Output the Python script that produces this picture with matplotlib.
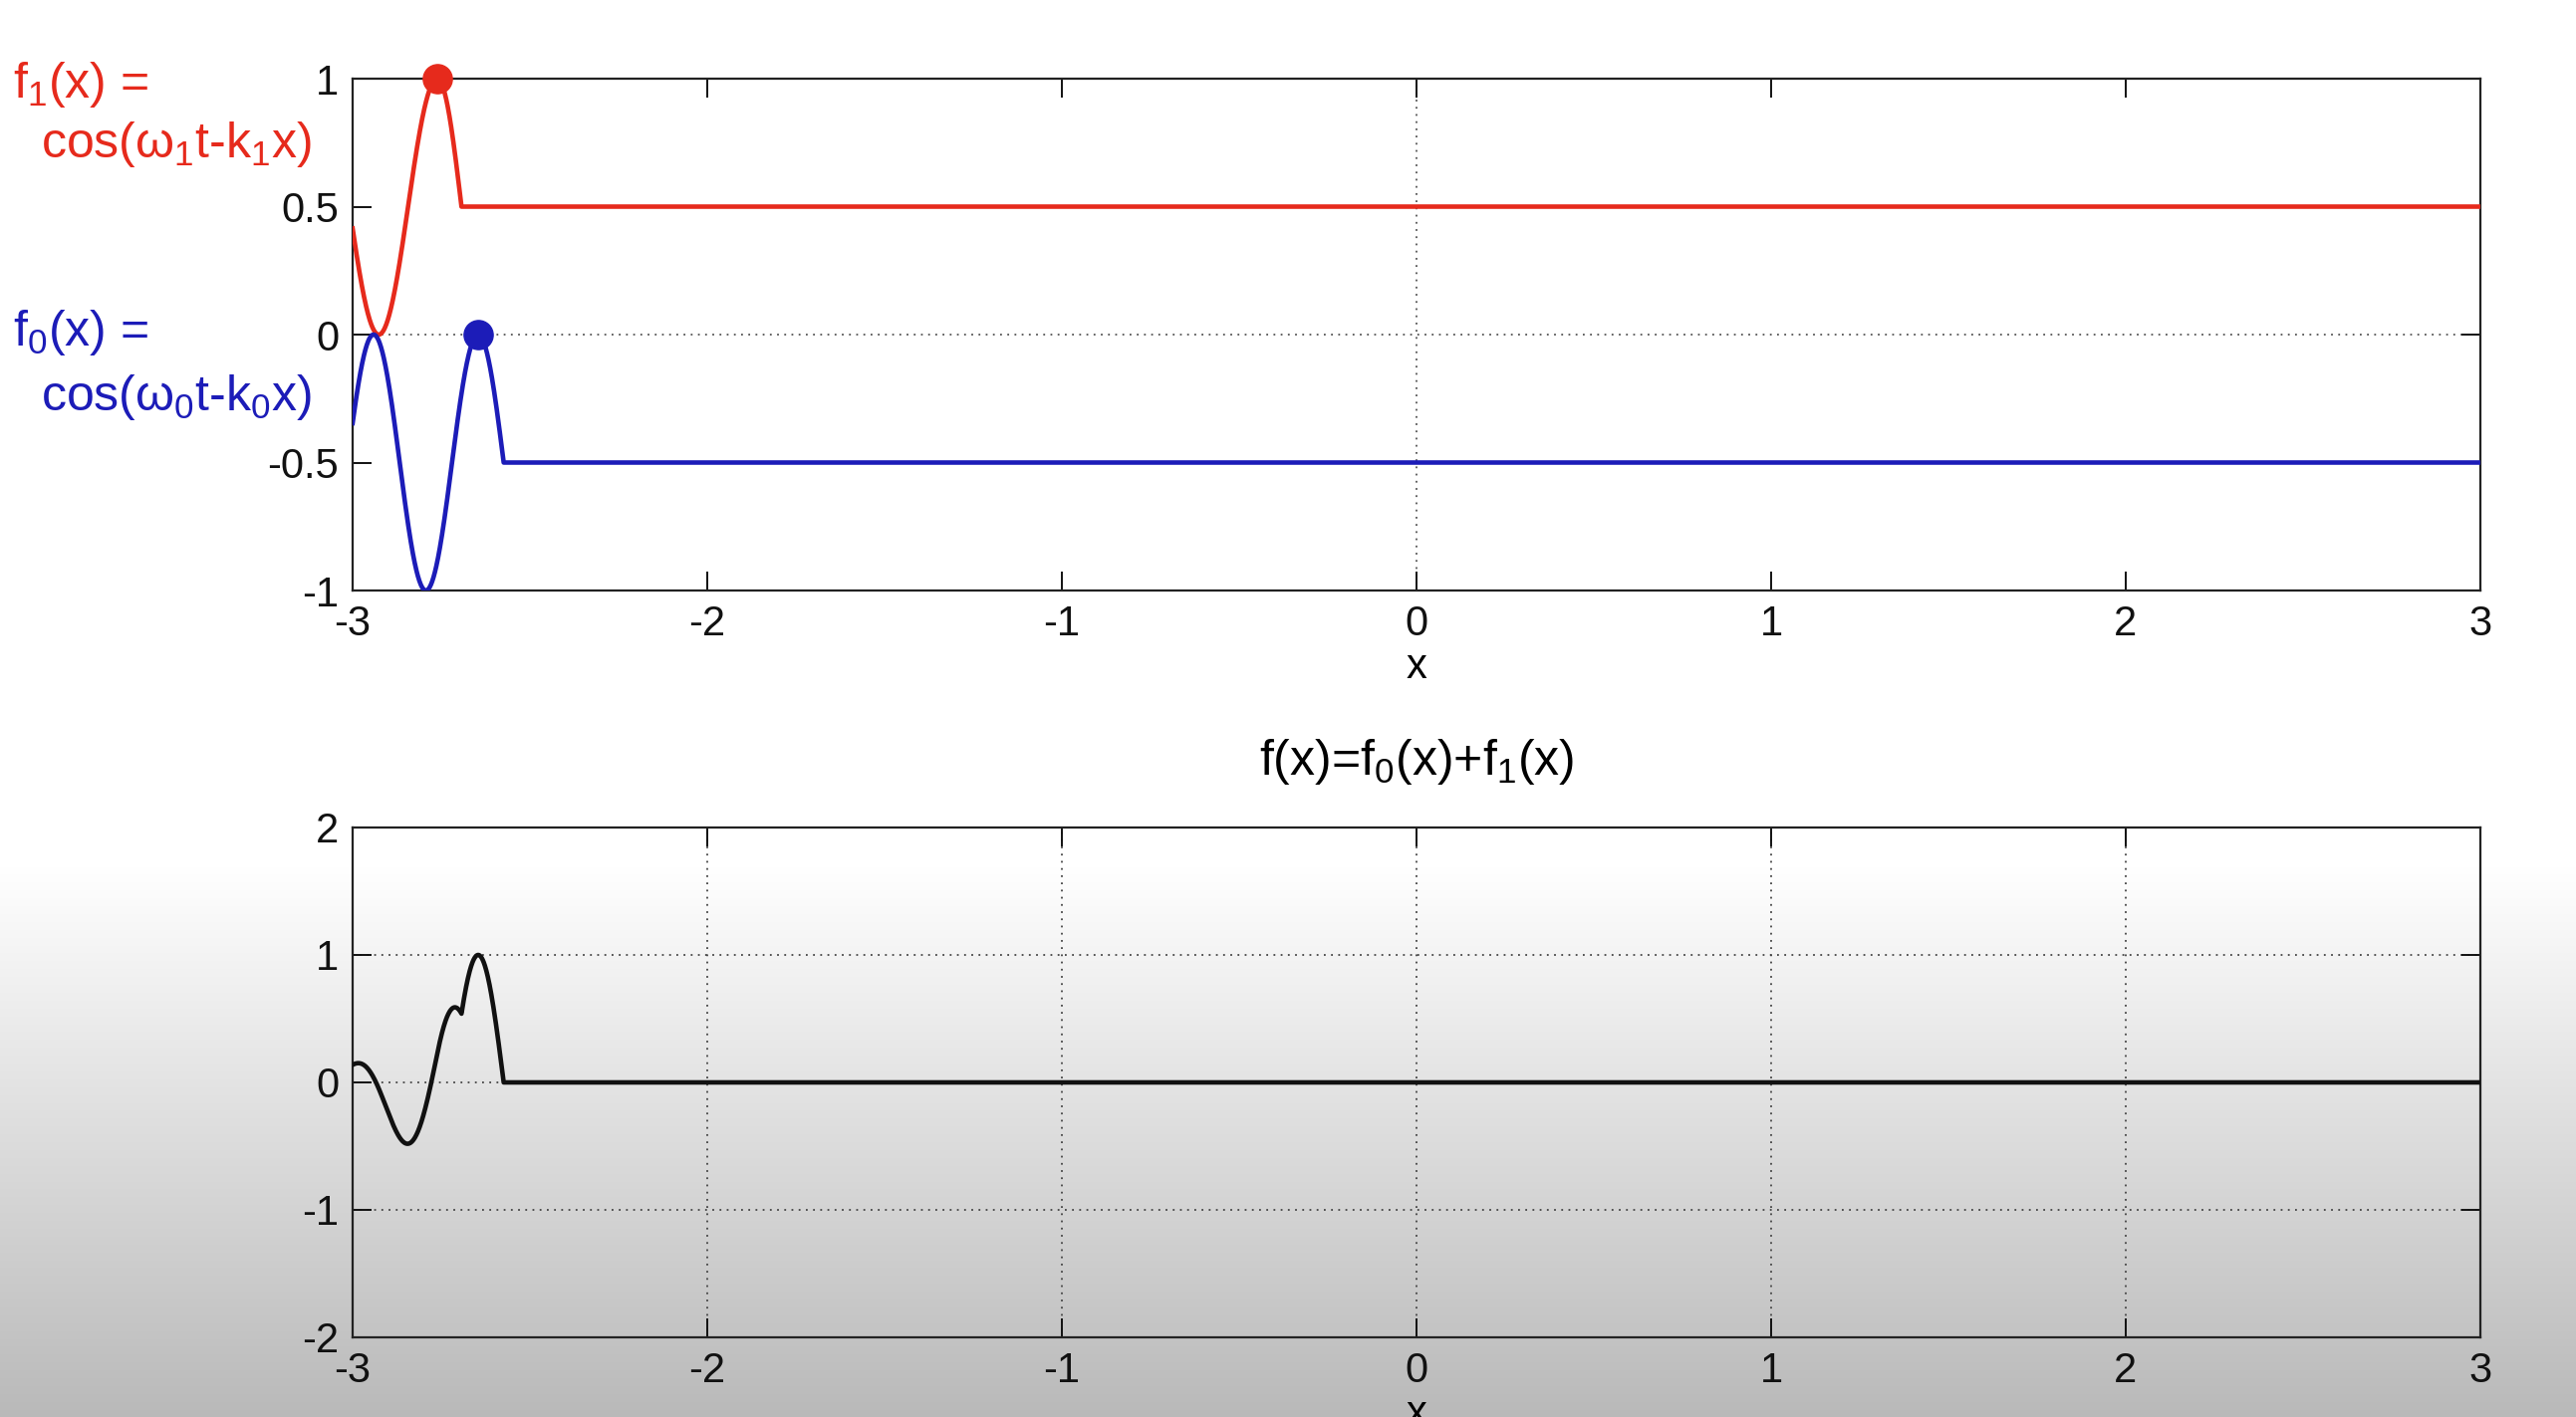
import numpy as np
import matplotlib
matplotlib.use("Agg")
import matplotlib.pyplot as plt

plt.rcParams['font.family'] = ['Liberation Sans', 'DejaVu Sans']
plt.rcParams['mathtext.fontset'] = 'custom'
plt.rcParams['mathtext.rm'] = 'Liberation Sans'
plt.rcParams['mathtext.it'] = 'Liberation Sans'
plt.rcParams['mathtext.bf'] = 'Liberation Sans:bold'
plt.rcParams['axes.unicode_minus'] = False

# ---- values ----
x_range = [-3, 3]
x_ticks = [-3, -2, -1, 0, 1, 2, 3]
x_tick_labels = ['-3', '-2', '-1', '0', '1', '2', '3']
top_y_ticks = [-1, -0.5, 0, 0.5, 1]
top_y_tick_labels = ['-1', '-0.5', '0', '0.5', '1']
bot_y_ticks = [-2, -1, 0, 1, 2]
bot_y_tick_labels = ['-2', '-1', '0', '1', '2']

# wave f1 (red): wavenumber, position of leading crest, width of the front drop
k1 = 19.0
crest1 = -2.761
front1 = 0.068
# wave f0 (blue)
k0 = 21.3
crest0 = -2.646
front0 = 0.072
# display offset / scale in the upper panel
offset1, offset0, scale_top = 0.5, -0.5, 0.5

RED = '#e62a1c'
BLUE = '#1c1cb8'

def wave(x, k, crest, front):
    y = np.cos(k * (x - crest))
    after = x > crest
    y[after] = np.cos(np.pi / 2 * np.clip((x[after] - crest) / front, 0, 1))
    return y

x = np.linspace(x_range[0], x_range[1], 6001)
f1 = wave(x, k1, crest1, front1)
f0 = wave(x, k0, crest0, front0)
fsum = f0 + f1

W, H = 2586, 1423
fig = plt.figure(figsize=(W / 100, H / 100), dpi=100)

# background gradient (white above, grey towards the bottom)
bg = fig.add_axes([0, 0, 1, 1], zorder=-10)
rows = np.arange(H)
g = np.where(rows < 870, 255, 255 - (rows - 870) / (H - 870) * 70) / 255.0
img = np.repeat(g[:, None, None], 3, axis=2)
bg.imshow(img, aspect='auto', extent=[0, 1, 0, 1], origin='upper')
bg.set_axis_off()

def axrect(l, t, r, b):
    return [l / W, 1 - b / H, (r - l) / W, (b - t) / H]

ax1 = fig.add_axes(axrect(354, 79, 2490, 593))
ax2 = fig.add_axes(axrect(354, 831, 2490, 1343))

dot = (0, (1, 3))
for ax in (ax1, ax2):
    ax.set_facecolor('none')
    ax.set_xlim(*x_range)
    ax.set_xticks(x_ticks)
    ax.set_xticklabels(x_tick_labels)
    ax.tick_params(direction='in', length=14, width=1.4, top=True, right=True,
                   labelsize=30, pad=10, colors='#111')
    for s in ax.spines.values():
        s.set_color('#222')
        s.set_linewidth(1.6)
    ax.set_xlabel('x', fontsize=30, labelpad=2)

# upper panel
ax1.set_ylim(-1, 1)
ax1.set_yticks(top_y_ticks)
ax1.set_yticklabels(top_y_tick_labels)
ax1.axhline(0, color='#555', lw=1.3, ls=dot, zorder=1)
ax1.axvline(0, color='#555', lw=1.3, ls=dot, zorder=1)
ax1.plot(x, scale_top * f1 + offset1, color=RED, lw=3.3, zorder=3)
ax1.plot(x, scale_top * f0 + offset0, color=BLUE, lw=3.3, zorder=3)
ax1.plot([crest1], [scale_top + offset1], 'o', color=RED, ms=21, clip_on=False, zorder=4)
ax1.plot([crest0], [scale_top + offset0], 'o', color=BLUE, ms=21, clip_on=False, zorder=4)

# lower panel
ax2.set_ylim(-2, 2)
ax2.set_yticks(bot_y_ticks)
ax2.set_yticklabels(bot_y_tick_labels)
ax2.grid(True, color='#444', lw=1.3, ls=dot)
ax2.set_axisbelow(True)
ax2.plot(x, fsum, color='#111', lw=3.3, zorder=3)
ax2.set_title('f(x)=f$_0$(x)+f$_1$(x)', fontsize=36, pad=38)

# left labels
def ftext(px, py, s, c):
    fig.text(px / W, 1 - py / H, s, color=c, fontsize=36, ha='left', va='baseline')

ftext(13, 98, 'f$_1$(x) =', RED)
ftext(41, 158, 'cos(ω$_1$t-k$_1$x)', RED)
ftext(13, 347, 'f$_0$(x) =', BLUE)
ftext(41, 412, 'cos(ω$_0$t-k$_0$x)', BLUE)

fig.savefig('out.png', dpi=100)
